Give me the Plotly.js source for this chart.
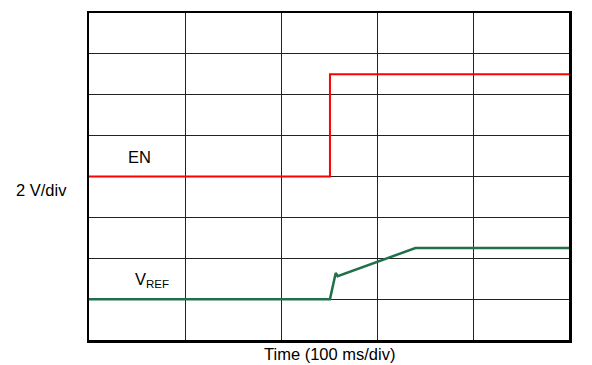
<!DOCTYPE html>
<html>
<head>
<meta charset="utf-8">
<script src="https://cdn.plot.ly/plotly-3.0.1.min.js"></script>
<style>html,body{margin:0;padding:0;background:#fff}#chart{width:592px;height:365px}</style>
</head>
<body>
<div id="chart"></div>
<script>
// Time in divisions (100 ms/div), voltage in divisions (2 V/div)
const enTime = [0, 2.51, 2.51, 5];
const enLevel = [4.0, 4.0, 6.5, 6.5];
const vrefTime = [0, 2.51, 2.57, 2.59, 3.40, 5];
const vrefLevel = [1.0, 1.0, 1.64, 1.56, 2.25, 2.25];
const labels = {en: "EN", vref: "V<sub>REF</sub>", yunit: "2 V/div", xunit: "Time (100 ms/div)"};

const font = {family: "Liberation Sans, Arial, sans-serif", size: 16.5, color: "#000"};

const data = [
  {x: enTime, y: enLevel, mode: "lines", line: {color: "#ff0000", width: 2}, hoverinfo: "skip"},
  {x: vrefTime, y: vrefLevel, mode: "lines", line: {color: "#22704a", width: 2.5}, hoverinfo: "skip"}
];

const axisBase = {showticklabels: false, ticks: "", zeroline: false, showgrid: true,
  gridcolor: "#222", gridwidth: 1, showline: true, mirror: true, linecolor: "#000", linewidth: 2.5, dtick: 1, tick0: 0, fixedrange: true};

const layout = {
  width: 592, height: 365,
  margin: {l: 89, r: 23, t: 13, b: 25},
  paper_bgcolor: "#fff", plot_bgcolor: "#fff",
  showlegend: false,
  font: font,
  xaxis: Object.assign({}, axisBase, {range: [0, 5]}),
  yaxis: Object.assign({}, axisBase, {range: [0, 8]}),
  annotations: [
    {text: labels.en, x: 0.53, y: 4.47, xref: "x", yref: "y", showarrow: false, font: font, xanchor: "center"},
    {text: labels.vref, x: 0.66, y: 1.47, xref: "x", yref: "y", showarrow: false, font: font, xanchor: "center"},
    {text: labels.yunit, x: -0.098, y: 3.67, xref: "paper", yref: "y", showarrow: false, font: font, xanchor: "center"},
    {text: labels.xunit, x: 2.51, y: -0.043, xref: "x", yref: "paper", showarrow: false, font: font, xanchor: "center", yanchor: "middle"}
  ]
};

Plotly.newPlot("chart", data, layout, {staticPlot: true, displayModeBar: false});
</script>
</body>
</html>
